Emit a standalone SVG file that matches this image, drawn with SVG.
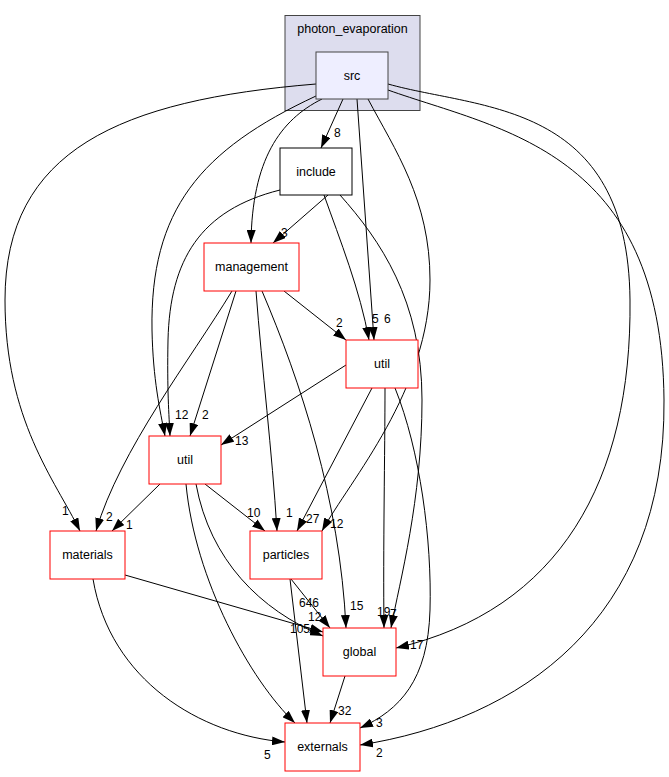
<svg xmlns="http://www.w3.org/2000/svg" width="669" height="777" viewBox="0 0 669 777">
<style>
.n{font-family:"Liberation Sans",Arial,sans-serif;font-size:12.5px;text-anchor:middle;fill:#000}
.l{font-family:"Liberation Sans",Arial,sans-serif;font-size:12px;fill:#000}
.e{fill:none;stroke:#000;stroke-width:1;marker-end:url(#a)}
.r{fill:#fff;stroke:#ff0000;stroke-width:1}
</style>
<defs>
<marker id="a" viewBox="0 0 13 9" refX="13" refY="4.5" markerWidth="13" markerHeight="9" markerUnits="userSpaceOnUse" orient="auto">
<path d="M0,0 L13,4.5 L0,9 z" fill="#000"/>
</marker>
</defs>
<rect width="669" height="777" fill="#fff"/>
<g id="cluster_photon_evaporation">
<rect x="285" y="15.5" width="135" height="95" fill="#ddddee" stroke="#444"/>
<text class="n" x="352.5" y="33">photon_evaporation</text>
</g>
<g id="edges">
<path class="e" d="M343,99 L321,148"/>
<path class="e" d="M322,99 C280,120 252,160 251,243"/>
<path class="e" d="M357,99 L374,340"/>
<path class="e" d="M316,96 C200,150 150,210 152,330 C153,380 160,410 165,436"/>
<path class="e" d="M316,84 C120,100 5,150 5,300 C5,420 55,480 80,531"/>
<path class="e" d="M368,99 C395,150 430,200 430,280 C430,390 350,480 322,531"/>
<path class="e" d="M388,84 C480,110 628,100 630,300 C632,480 560,610 396,648"/>
<path class="e" d="M388,90 C500,130 662,150 664,400 C666,620 520,720 360,745"/>
<path class="e" d="M328,195 L273,243"/>
<path class="e" d="M324,195 C340,240 360,290 369,340"/>
<path class="e" d="M280,190 C200,210 170,260 168,340 C167,390 169,415 170,436"/>
<path class="e" d="M340,195 C380,240 422,300 422,400 C422,500 400,580 391,628"/>
<path class="e" d="M284,291 L346,340"/>
<path class="e" d="M236,291 L190,436"/>
<path class="e" d="M232,291 C190,360 120,450 96,531"/>
<path class="e" d="M256,291 C262,370 272,450 277,531"/>
<path class="e" d="M262,291 C300,380 340,500 346,628"/>
<path class="e" d="M346,365 L221,445"/>
<path class="e" d="M372,388 L297,531"/>
<path class="e" d="M385,388 C385,450 383,550 384,628"/>
<path class="e" d="M395,388 C420,450 432,540 430,610 C428,680 400,710 360,728"/>
<path class="e" d="M160,484 L112,531"/>
<path class="e" d="M205,484 L265,531"/>
<path class="e" d="M196,484 C210,560 260,610 323,636"/>
<path class="e" d="M186,484 C195,580 250,680 295,723"/>
<path class="e" d="M125,575 L323,632"/>
<path class="e" d="M93,579 C110,680 200,735 285,742"/>
<path class="e" d="M291,579 L330,628"/>
<path class="e" d="M290,579 L307,723"/>
<path class="e" d="M345,676 L330,723"/>
</g>
<g id="edge_labels">
<text class="l" x="334" y="137">8</text>
<text class="l" x="254" y="256">1</text>
<text class="l" x="281" y="237">3</text>
<text class="l" x="384" y="323">6</text>
<text class="l" x="372" y="323">5</text>
<text class="l" x="336" y="327">2</text>
<text class="l" x="175" y="419">12</text>
<text class="l" x="202" y="419">2</text>
<text class="l" x="235" y="445">13</text>
<text class="l" x="62" y="515">1</text>
<text class="l" x="106" y="521">2</text>
<text class="l" x="126" y="529">1</text>
<text class="l" x="247" y="517">10</text>
<text class="l" x="286" y="517">1</text>
<text class="l" x="306" y="523">27</text>
<text class="l" x="330" y="528">12</text>
<text class="l" x="299" y="607">646</text>
<text class="l" x="350" y="610">15</text>
<text class="l" x="377" y="616">19</text>
<text class="l" x="390" y="618">7</text>
<text class="l" x="308" y="621">12</text>
<text class="l" x="290" y="633">105</text>
<text class="l" x="410" y="649">17</text>
<text class="l" x="264" y="759">5</text>
<text class="l" x="291" y="737">1</text>
<text class="l" x="318" y="737">4</text>
<text class="l" x="338" y="715">32</text>
<text class="l" x="376" y="727">3</text>
<text class="l" x="376" y="757">2</text>
</g>
<g id="node_src">
<rect x="316" y="52" width="72" height="47" fill="#eeeeff" stroke="#444"/>
<text class="n" x="352" y="80">src</text>
</g>
<g id="node_include">
<rect x="280" y="148" width="72" height="47" fill="#fff" stroke="#000"/>
<text class="n" x="316" y="176">include</text>
</g>
<g id="node_management">
<rect class="r" x="204" y="243" width="95" height="48"/>
<text class="n" x="251.5" y="271">management</text>
</g>
<g id="node_util_right">
<rect class="r" x="346" y="340" width="72" height="48"/>
<text class="n" x="382" y="368">util</text>
</g>
<g id="node_util_left">
<rect class="r" x="149" y="436" width="72" height="48"/>
<text class="n" x="185" y="464">util</text>
</g>
<g id="node_materials">
<rect class="r" x="50" y="531" width="75" height="48"/>
<text class="n" x="87.5" y="559">materials</text>
</g>
<g id="node_particles">
<rect class="r" x="250" y="531" width="72" height="48"/>
<text class="n" x="286" y="559">particles</text>
</g>
<g id="node_global">
<rect class="r" x="323" y="628" width="73" height="48"/>
<text class="n" x="359.5" y="656">global</text>
</g>
<g id="node_externals">
<rect class="r" x="285" y="723" width="75" height="48"/>
<text class="n" x="322.5" y="751">externals</text>
</g>
</svg>
